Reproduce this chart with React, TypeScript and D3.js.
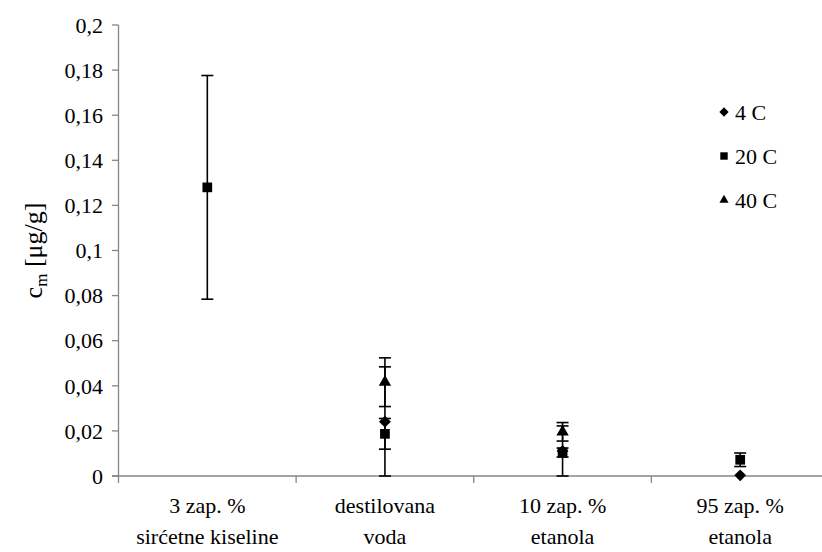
import * as d3 from 'd3';

const categories = [
  ['3 zap. %', 'sirćetne kiseline'],
  ['destilovana', 'voda'],
  ['10 zap. %', 'etanola'],
  ['95 zap. %', 'etanola'],
];
const seriesNames = ['4 C', '20 C', '40 C'];
const markerTypes = ['diamond', 'square', 'triangle'];
// values per category (null = no point)
const values4C = [null, 0.0241, 0.0111, 0.0003];
const values20C = [0.128, 0.0187, 0.0104, 0.0072];
const values40C = [null, 0.0416, 0.0196, null];
const errors4C = [null, 0.0243, 0.0111, 0];
const errors20C = [0.0496, 0.0068, 0.002, 0.003];
const errors40C = [null, 0.0108, 0.0041, null];
const yTicks = [0, 0.02, 0.04, 0.06, 0.08, 0.1, 0.12, 0.14, 0.16, 0.18, 0.2];

const W = 822;
const H = 552;
const font = "'Times New Roman', 'Liberation Serif', 'DejaVu Serif', serif";
const axisColor = '#868686';

function markerPath(type: string, size: number) {
  const sym =
    type === 'diamond' ? d3.symbolDiamond2 : type === 'square' ? d3.symbolSquare2 : d3.symbolTriangle2;
  return d3.symbol().type(sym).size(size)()!;
}

export default function App() {
  const x = d3
    .scaleBand<number>()
    .domain(categories.map((_, i) => i))
    .range([118.5, 829]);
  const y = d3.scaleLinear().domain([0, 0.2]).range([476, 25]);

  const allValues = [values4C, values20C, values40C];
  const allErrors = [errors4C, errors20C, errors40C];
  const sizes = [90, 120, 110];
  const legendSizes = [55, 70, 60];
  const ts = { fontFamily: font };

  return (
    <svg
      width={W}
      height={H}
      style={{ position: 'fixed', left: 0, top: 0, background: '#fff' }}
    >
      {/* y axis */}
      <line x1={118.5} x2={118.5} y1={y(0.2)} y2={y(0)} stroke={axisColor} strokeWidth={1.3} />
      {yTicks.map((t) => (
        <g key={t}>
          <line x1={112} x2={118.5} y1={y(t)} y2={y(t)} stroke={axisColor} strokeWidth={1.3} />
          <text x={103} y={y(t)} dy="0.35em" textAnchor="end" fontSize={22} style={ts}>
            {String(t).replace('.', ',')}
          </text>
        </g>
      ))}
      <text
        transform={`translate(42,${y(0.1)}) rotate(-90)`}
        textAnchor="middle"
        fontSize={26}
        style={ts}
      >
        c<tspan fontSize={17} dy={5}>m</tspan>
        <tspan dy={-5}> [μg/g]</tspan>
      </text>

      {/* x axis */}
      <line x1={112} x2={829} y1={476} y2={476} stroke={axisColor} strokeWidth={1.3} />
      {categories.map((_, i) => (
        <line
          key={i}
          x1={x(i)!}
          x2={x(i)!}
          y1={476}
          y2={483}
          stroke={axisColor}
          strokeWidth={1.3}
        />
      ))}
      {categories.map((c, i) => (
        <text key={i} x={x(i)! + x.bandwidth() / 2} textAnchor="middle" fontSize={22} style={ts}>
          <tspan x={x(i)! + x.bandwidth() / 2} y={513}>{c[0]}</tspan>
          <tspan x={x(i)! + x.bandwidth() / 2} y={544}>{c[1]}</tspan>
        </text>
      ))}

      {/* series */}
      {allValues.map((vals, s) => (
        <g key={s}>
          {vals.map((v, i) => {
            if (v === null) return null;
            const e = allErrors[s][i] ?? 0;
            const cx = x(i)! + x.bandwidth() / 2;
            return (
              <g key={i}>
                {e > 0 && (
                  <g stroke="#000" strokeWidth={1.6}>
                    <line x1={cx} x2={cx} y1={y(v + e)} y2={y(Math.max(0, v - e))} />
                    <line x1={cx - 6} x2={cx + 6} y1={y(v + e)} y2={y(v + e)} />
                    <line x1={cx - 6} x2={cx + 6} y1={y(Math.max(0, v - e))} y2={y(Math.max(0, v - e))} />
                  </g>
                )}
                <path
                  d={markerPath(markerTypes[s], sizes[s])}
                  transform={`translate(${cx},${y(v)})`}
                  fill="#000"
                />
              </g>
            );
          })}
        </g>
      ))}

      {/* legend */}
      {seriesNames.map((n, s) => {
        const ly = 112 + s * 44;
        return (
          <g key={n}>
            <path
              d={markerPath(markerTypes[s], legendSizes[s])}
              transform={`translate(724,${ly})`}
              fill="#000"
            />
            <text x={735} y={ly} dy="0.35em" fontSize={22} style={ts}>
              {n}
            </text>
          </g>
        );
      })}
    </svg>
  );
}
